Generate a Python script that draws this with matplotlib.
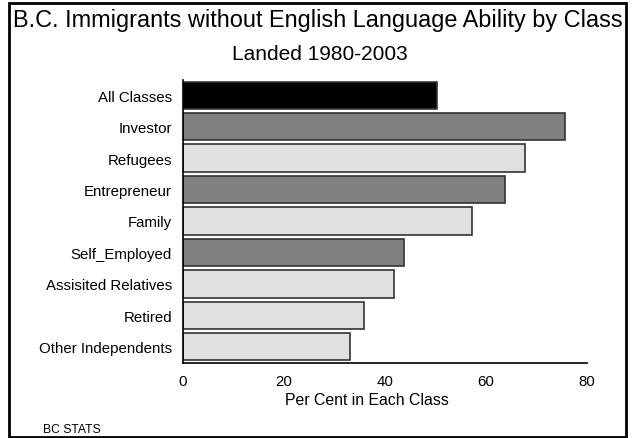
import matplotlib
matplotlib.use("Agg")
import matplotlib.pyplot as plt
from matplotlib.patches import Rectangle

classes = ["All Classes", "Investor", "Refugees", "Entrepreneur", "Family",
           "Self_Employed", "Assisited Relatives", "Retired", "Other Independents"]
percent = [50.2, 75.6, 67.7, 63.8, 57.3, 43.8, 41.7, 35.8, 33.1]
colors = ["#000000", "#808080", "#e0e0e0", "#808080", "#e0e0e0",
          "#808080", "#e0e0e0", "#e0e0e0", "#e0e0e0"]
xticks = [0, 20, 40, 60, 80]

plt.rcParams['font.family'] = ['Liberation Sans', 'DejaVu Sans']

fig = plt.figure(figsize=(6.34, 4.39), dpi=100)
ax = fig.add_axes([183 / 634, 1 - 363.5 / 439, (587 - 183) / 634, (363.5 - 80.5) / 439])

y = list(range(len(classes)))
ax.barh(y, percent, height=0.87, color=colors, edgecolor="#333333", linewidth=1.2)
ax.set_ylim(len(classes) - 0.5, -0.5)
ax.set_xlim(0, 80)
ax.set_yticks(y)
ax.set_yticklabels(classes, fontsize=10.8)
ax.set_xticks(xticks)
ax.set_xticklabels([str(t) for t in xticks], fontsize=10.8)
ax.tick_params(length=0, pad=8)
ax.tick_params(axis='x', pad=8)
for s in ["top", "right"]:
    ax.spines[s].set_visible(False)
ax.spines["left"].set_linewidth(1.2)
ax.spines["bottom"].set_linewidth(1.2)

fig.text(367 / 634, 1 - 401 / 439, "Per Cent in Each Class", ha="center", va="center",
         fontsize=11.4)
fig.text(318 / 634, 1 - 20 / 439, "B.C. Immigrants without English Language Ability by Class",
         ha="center", va="center", fontsize=16.9)
fig.text(320 / 634, 1 - 55 / 439, "Landed 1980-2003", ha="center", va="center", fontsize=15)
fig.text(43 / 634, 1 - 430 / 439, "BC STATS", ha="left", va="center", fontsize=8.7)

fig.patches.append(Rectangle((9 / 634, 1 - 437.5 / 439), (626 - 9) / 634, (437.5 - 4) / 439,
                             transform=fig.transFigure, fill=False, edgecolor="black",
                             linewidth=2))

fig.savefig("out.png", dpi=100)
